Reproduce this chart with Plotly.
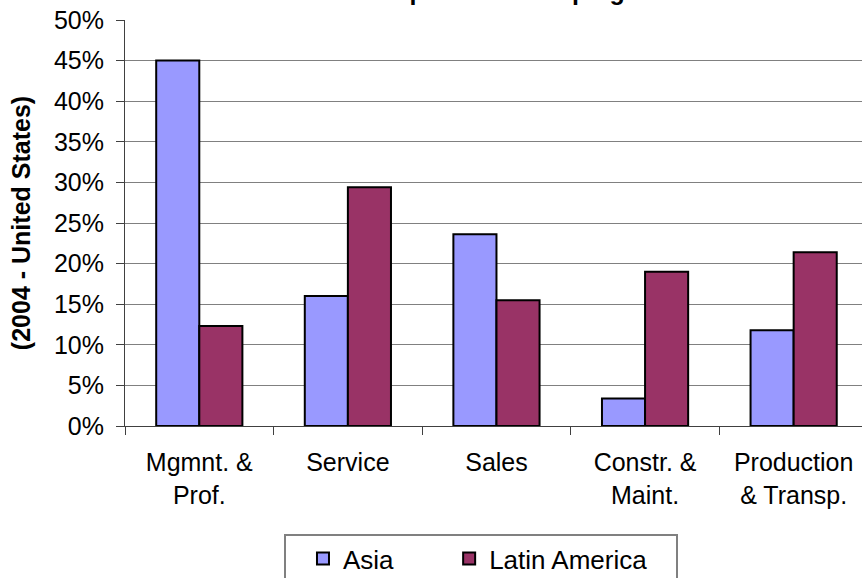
import plotly.graph_objects as go

categories = ["Mgmnt. &<br>Prof.", "Service", "Sales", "Constr. &<br>Maint.", "Production<br>& Transp."]
asia = [0.450, 0.160, 0.236, 0.034, 0.118]
latin_america = [0.123, 0.294, 0.155, 0.190, 0.214]
y_ticks = [0, 0.05, 0.10, 0.15, 0.20, 0.25, 0.30, 0.35, 0.40, 0.45, 0.50]
series_names = ["Asia", "Latin America"]

FONT = "Liberation Sans, Arial, sans-serif"
NBSP = "\u00a0"

fig = go.Figure()
fig.add_trace(go.Bar(name=series_names[0] + NBSP * 7, x=categories, y=asia,
                     marker=dict(color="#9999FF", line=dict(color="black", width=2))))
fig.add_trace(go.Bar(name=series_names[1], x=categories, y=latin_america,
                     marker=dict(color="#993366", line=dict(color="black", width=2))))

fig.update_layout(
    width=862, height=578,
    margin=dict(l=125, r=0, t=20, b=152, autoexpand=False),
    paper_bgcolor="white", plot_bgcolor="white",
    font=dict(family=FONT, size=25, color="black"),
    barmode="group", bargap=0.42, bargroupgap=0,
    showlegend=True,
    legend=dict(orientation="h", x=0.2415, xanchor="left", y=-0.2685, yanchor="top",
                bgcolor="rgba(0,0,0,0)", borderwidth=0, itemwidth=30,
                font=dict(family=FONT, size=26, color="black")),
    shapes=[dict(type="rect", xref="paper", yref="paper",
                 x0=(285 - 125) / 737, x1=(677 - 125) / 737,
                 y0=-(535 - 426) / 406, y1=-(600 - 426) / 406,
                 line=dict(color="#808080", width=2), fillcolor="rgba(0,0,0,0)")],
    annotations=[dict(text="<b>Occupational Grouping</b>", xref="paper", yref="paper",
                      x=0.681, y=1.033, xanchor="right", yanchor="bottom", showarrow=False,
                      font=dict(family=FONT, size=25, color="black"))],
)
fig.update_yaxes(range=[0, 0.5], tickvals=y_ticks, tickformat=".0%", automargin=False,
                 showgrid=True, gridcolor="#808080", gridwidth=1, zeroline=False,
                 showline=True, linecolor="#404040", linewidth=1,
                 ticks="outside", ticklen=8, tickcolor="#404040",
                 ticklabelstandoff=7,
                 title=dict(text="<b>(2004 - United States)</b>", standoff=16,
                            font=dict(family=FONT, size=25, color="black")))
fig.update_xaxes(range=[-0.5, 4.46], tickson="boundaries", automargin=False,
                 showline=True, linecolor="#404040", linewidth=1,
                 ticks="outside", ticklen=8, tickcolor="#404040",
                 ticklabelstandoff=14, showgrid=False)

fig.write_html("out.html", config={"displayModeBar": False},
               post_script="document.body.style.margin='0px';")
